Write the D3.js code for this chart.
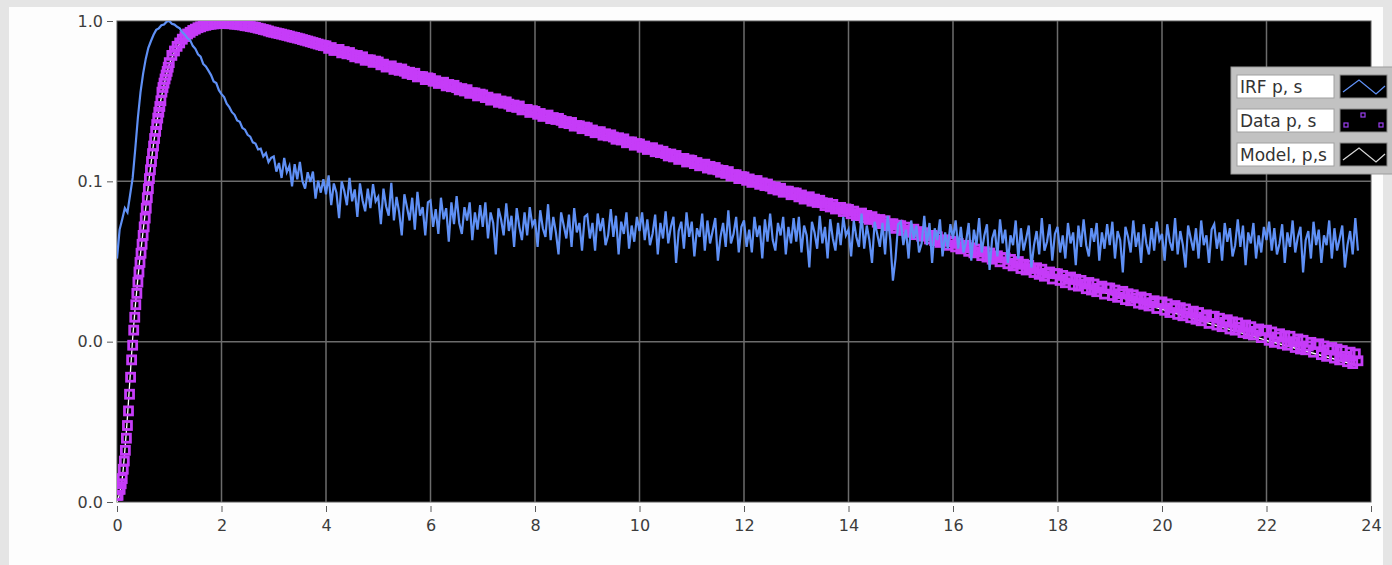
<!DOCTYPE html>
<html>
<head>
<meta charset="utf-8">
<script src="https://cdn.jsdelivr.net/npm/d3@7"></script>
<style>
  html, body { margin: 0; padding: 0; background: #e5e5e5; }
  .tick text { font-family: "DejaVu Sans", sans-serif; font-size: 16px; fill: #3c3c3c; }
  .tick line { stroke: #5a5a5a; }
  .legend-label { font-family: "DejaVu Sans", sans-serif; font-size: 17px; fill: #333; }
</style>
</head>
<body>
<div id="chart"></div>
<script>
// axis ticks
const xTicks = [0, 2, 4, 6, 8, 10, 12, 14, 16, 18, 20, 22, 24];
const yTicks = [1, 0.1, 0.01, 0.001];
const yTickLabels = ["1.0", "0.1", "0.0", "0.0"];
const legendNames = ["IRF p, s", "Data p, s", "Model, p,s"];

// IRF, sampled every 0.05 from t = 0
const irfDt = 0.05;
const irf = [
  0.033,0.05,0.058,0.068,0.064,0.082,0.105,0.16,0.25,0.36,0.47,0.58,0.68,0.75,0.82,0.88,0.9,0.94,0.95,0.99,
  1.0,0.96,0.95,0.92,0.9,0.85,0.82,0.78,0.76,0.7,0.67,0.62,0.6,0.54,0.52,0.49,0.46,0.42,0.41,0.37,
  0.35,0.335,0.305,0.29,0.27,0.26,0.24,0.235,0.215,0.21,0.195,0.19,0.175,0.172,0.158,0.16,0.143,0.15,0.132,0.14,
  0.143,0.115,0.13,0.105,0.14,0.114,0.125,0.093,0.128,0.103,0.132,0.1,0.09,0.114,0.099,0.115,0.078,0.101,0.085,0.103,
  0.083,0.109,0.071,0.097,0.085,0.059,0.1,0.087,0.071,0.105,0.075,0.089,0.06,0.097,0.076,0.065,0.09,0.068,0.096,0.075,
  0.08,0.054,0.09,0.07,0.061,0.098,0.057,0.08,0.064,0.046,0.083,0.069,0.057,0.079,0.05,0.086,0.061,0.069,0.046,0.074,
  0.076,0.052,0.067,0.047,0.079,0.058,0.068,0.042,0.074,0.054,0.081,0.055,0.047,0.069,0.057,0.074,0.043,0.064,0.05,0.071,
  0.052,0.074,0.044,0.064,0.055,0.035,0.068,0.058,0.046,0.073,0.049,0.061,0.039,0.068,0.052,0.043,0.064,0.046,0.069,0.053,
  0.058,0.039,0.066,0.051,0.045,0.072,0.043,0.06,0.048,0.035,0.064,0.053,0.044,0.062,0.039,0.068,0.048,0.055,0.037,0.06,
  0.062,0.044,0.055,0.037,0.063,0.049,0.059,0.04,0.046,0.067,0.045,0.061,0.035,0.056,0.047,0.064,0.038,0.053,0.042,0.06,
  0.049,0.064,0.043,0.058,0.04,0.047,0.062,0.035,0.055,0.044,0.065,0.041,0.052,0.06,0.031,0.049,0.056,0.038,0.064,0.045,
  0.056,0.034,0.051,0.045,0.063,0.037,0.057,0.041,0.049,0.059,0.032,0.045,0.055,0.039,0.066,0.041,0.047,0.06,0.036,0.052,
  0.057,0.039,0.05,0.036,0.06,0.045,0.053,0.033,0.058,0.042,0.063,0.043,0.037,0.055,0.046,0.06,0.035,0.052,0.041,0.059,
  0.042,0.06,0.036,0.053,0.046,0.029,0.056,0.048,0.038,0.061,0.041,0.052,0.033,0.058,0.044,0.037,0.055,0.04,0.06,0.046,
  0.05,0.034,0.057,0.045,0.039,0.063,0.038,0.053,0.043,0.031,0.056,0.047,0.039,0.055,0.035,0.061,0.043,0.024,0.033,0.054,
  0.056,0.04,0.05,0.033,0.057,0.044,0.053,0.036,0.041,0.061,0.04,0.055,0.031,0.051,0.043,0.058,0.034,0.048,0.038,0.054,
  0.044,0.057,0.038,0.052,0.036,0.042,0.055,0.032,0.05,0.04,0.059,0.036,0.046,0.054,0.028,0.044,0.05,0.034,0.058,0.041,
  0.05,0.031,0.046,0.04,0.057,0.033,0.051,0.037,0.044,0.053,0.029,0.04,0.049,0.035,0.059,0.037,0.042,0.054,0.032,0.047,
  0.052,0.036,0.046,0.033,0.055,0.041,0.048,0.03,0.053,0.039,0.058,0.04,0.034,0.051,0.042,0.055,0.032,0.048,0.038,0.054,
  0.04,0.056,0.033,0.049,0.043,0.027,0.052,0.045,0.036,0.057,0.039,0.048,0.031,0.054,0.041,0.035,0.051,0.037,0.056,0.043,
  0.047,0.032,0.054,0.042,0.037,0.059,0.035,0.049,0.04,0.029,0.053,0.044,0.037,0.051,0.033,0.057,0.04,0.046,0.031,0.05,
  0.054,0.038,0.048,0.032,0.055,0.042,0.051,0.034,0.04,0.058,0.039,0.053,0.03,0.048,0.041,0.055,0.033,0.046,0.036,0.052,
  0.043,0.056,0.037,0.051,0.035,0.041,0.054,0.031,0.048,0.039,0.057,0.036,0.045,0.052,0.027,0.043,0.049,0.033,0.056,0.04,
  0.05,0.031,0.046,0.04,0.057,0.033,0.051,0.037,0.044,0.053,0.029,0.04,0.049,0.035,0.059,0.037
];

// Data, rising edge every 0.02 from t = 0
const dataRiseDt = 0.02;
const dataRise = [
  0.0011,0.0011,0.0012,0.0012,0.0013,0.0014,0.0016,0.0018,0.0021,0.0025,
  0.003,0.0037,0.0047,0.006,0.0077,0.0095,0.0118,0.0142,0.017,0.02,
  0.0235,0.0272,0.0312,0.0356,0.0405,0.046,0.052,0.059,0.068,0.079,
  0.09,0.104,0.118,0.133,0.149,0.166,0.185,0.205,0.226,0.248,
  0.27,0.293,0.318,0.36,0.385,0.41,0.435,0.46,0.485,0.515
];
// Data, every 0.05 from t = 1
const dataStart = 1.0;
const dataDt = 0.05;
const dataMain = [
  0.55,0.61,0.65,0.695,0.73,0.77,0.8,0.83,0.85,0.873,0.89,0.908,0.92,0.933,0.94,0.95,0.955,0.96,0.962,0.966,
  0.965,0.97,0.966,0.962,0.962,0.955,0.955,0.948,0.945,0.935,0.932,0.924,0.918,0.912,0.902,0.895,0.885,0.878,0.867,0.856,
  0.85,0.842,0.835,0.828,0.82,0.813,0.805,0.796,0.79,0.782,0.775,0.766,0.758,0.75,0.742,0.734,0.726,0.718,0.71,0.703,
  0.7,0.675,0.683,0.655,0.66,0.665,0.633,0.645,0.624,0.636,0.616,0.598,0.61,0.588,0.598,0.569,0.573,0.572,0.552,0.562,
  0.555,0.533,0.538,0.516,0.521,0.525,0.499,0.508,0.492,0.502,0.486,0.471,0.479,0.463,0.472,0.448,0.451,0.45,0.431,0.442,
  0.438,0.421,0.424,0.408,0.411,0.415,0.394,0.402,0.389,0.397,0.384,0.372,0.379,0.366,0.373,0.354,0.357,0.356,0.341,0.35,
  0.346,0.333,0.335,0.321,0.325,0.327,0.311,0.317,0.307,0.313,0.303,0.293,0.299,0.289,0.295,0.279,0.281,0.281,0.269,0.276,
  0.273,0.262,0.265,0.254,0.257,0.259,0.246,0.25,0.243,0.247,0.24,0.232,0.236,0.229,0.233,0.221,0.223,0.222,0.213,0.218,
  0.216,0.207,0.209,0.201,0.203,0.204,0.194,0.198,0.192,0.195,0.189,0.183,0.187,0.181,0.184,0.174,0.176,0.176,0.168,0.172,
  0.171,0.163,0.166,0.158,0.161,0.162,0.153,0.157,0.151,0.154,0.149,0.144,0.148,0.142,0.145,0.137,0.139,0.139,0.132,0.136,
  0.135,0.129,0.131,0.125,0.127,0.128,0.121,0.124,0.119,0.122,0.118,0.114,0.117,0.112,0.115,0.108,0.11,0.11,0.104,0.107,
  0.1065,0.1015,0.1035,0.0985,0.1005,0.1012,0.0958,0.0978,0.094,0.0962,0.0932,0.0898,0.0922,0.0882,0.0905,0.0855,0.0868,0.0868,0.0825,0.0848,
  0.0845,0.08,0.0822,0.0775,0.0792,0.0801,0.0752,0.0775,0.0738,0.0762,0.0736,0.0706,0.0731,0.0692,0.0718,0.0672,0.0686,0.0688,0.0648,0.0673,
  0.0668,0.0628,0.0652,0.0611,0.0626,0.0634,0.0592,0.0613,0.0579,0.0602,0.0581,0.0556,0.0578,0.0545,0.0568,0.0529,0.0542,0.0544,0.0509,0.0533,
  0.0529,0.0494,0.0518,0.0481,0.0494,0.0503,0.0465,0.0486,0.0455,0.0478,0.0459,0.0437,0.046,0.0427,0.0451,0.0416,0.0428,0.0432,0.0399,0.0423,
  0.0419,0.039,0.041,0.0379,0.0391,0.0399,0.0366,0.0385,0.0358,0.0378,0.0363,0.0344,0.0364,0.0337,0.0357,0.0327,0.0338,0.0343,0.0315,0.0335,
  0.0333,0.0306,0.0326,0.0297,0.0308,0.0316,0.0286,0.0304,0.028,0.0299,0.0286,0.027,0.0289,0.0263,0.0283,0.0256,0.0267,0.0272,0.0246,0.0266,
  0.0265,0.0241,0.0259,0.0233,0.0245,0.0253,0.0226,0.0245,0.0222,0.0241,0.0229,0.0214,0.0234,0.021,0.0229,0.0205,0.0215,0.0222,0.0198,0.0216,
  0.0216,0.0194,0.021,0.0189,0.0199,0.0206,0.0183,0.0199,0.018,0.0196,0.0187,0.0174,0.019,0.0171,0.0186,0.0167,0.0175,0.018,0.0161,0.0176,
  0.0177,0.0157,0.0172,0.0152,0.0162,0.0168,0.0148,0.0163,0.0145,0.016,0.0151,0.0141,0.0155,0.0138,0.0152,0.0135,0.0142,0.0147,0.013,0.0144,
  0.0144,0.0127,0.014,0.0124,0.0132,0.0137,0.012,0.0133,0.0118,0.0131,0.0123,0.0114,0.0127,0.0112,0.0124,0.011,0.0116,0.012,0.0106,0.0117,
  0.0118,0.0102,0.0115,0.0099,0.0107,0.0112,0.0097,0.0109,0.0095,0.0108,0.01,0.0092,0.0104,0.009,0.0102,0.0089,0.0094,0.0099,0.0086,0.0096,
  0.0097,0.0083,0.0094,0.0081,0.0089,0.0092,0.0079,0.009,0.0077,0.0088,0.0081,0.0075,0.0086,0.0073,0.0084,0.0076
];

// fitted model
const modelT = [0, 0.1, 0.2, 0.3, 0.4, 0.5, 0.6, 0.7, 0.8, 0.9, 1.0, 1.2, 1.4, 1.6, 1.8, 2.0, 2.2, 2.5, 3, 3.5, 4, 6, 8, 10, 12, 14, 16, 18, 20, 22, 23.75];
const modelV = [0.001, 0.0014, 0.0034, 0.0105, 0.025, 0.049, 0.094, 0.172, 0.276, 0.4, 0.535, 0.72, 0.845, 0.915, 0.952, 0.963, 0.96, 0.93, 0.848, 0.773, 0.69, 0.428, 0.266, 0.166, 0.103, 0.064, 0.0398, 0.0246, 0.0159, 0.0102, 0.0071];

const irfColor = "#5f90f5";
const dataColor = "#c63cf8";
const modelColor = "#ffffff";

const irfPts = irf.map((v, i) => ({ t: i * irfDt, v: v }));
const dataPts = dataRise.map((v, i) => ({ t: i * dataRiseDt, v: v }))
  .concat(dataMain.map((v, i) => ({ t: dataStart + i * dataDt, v: v })));
const modelPts = modelT.map((t, i) => ({ t: t, v: modelV[i] }));

const width = 1392;
const height = 565;
const plot = { left: 117, right: 1371, top: 21, bottom: 502 };

const svg = d3.select("#chart").append("svg")
  .attr("width", width)
  .attr("height", height)
  .style("display", "block");

svg.append("rect").attr("width", width).attr("height", height).attr("fill", "#e5e5e5");
svg.append("rect")
  .attr("x", 9).attr("y", 7)
  .attr("width", 1374).attr("height", 560)
  .attr("fill", "#fdfdfd");

const x = d3.scaleLinear().domain([0, 24]).range([plot.left, plot.right]);
const y = d3.scaleLog().domain([0.001, 1]).range([plot.bottom, plot.top]);

// plot background
svg.append("rect")
  .attr("x", plot.left).attr("y", plot.top)
  .attr("width", plot.right - plot.left)
  .attr("height", plot.bottom - plot.top)
  .attr("fill", "#000")
  .attr("stroke", "#5a5a5a")
  .attr("stroke-width", 1);

// grid
const grid = svg.append("g").attr("stroke", "#6c6c6c").attr("stroke-width", 1.5);
grid.selectAll(".vgrid")
  .data(xTicks.filter((d) => d > 0 && d < 24))
  .join("line")
  .attr("class", "vgrid")
  .attr("x1", (d) => x(d)).attr("x2", (d) => x(d))
  .attr("y1", plot.top).attr("y2", plot.bottom);
grid.selectAll(".hgrid")
  .data(yTicks.filter((d) => d < 1 && d > 0.001))
  .join("line")
  .attr("class", "hgrid")
  .attr("x1", plot.left).attr("x2", plot.right)
  .attr("y1", (d) => y(d)).attr("y2", (d) => y(d));

svg.append("clipPath").attr("id", "clip")
  .append("rect")
  .attr("x", plot.left).attr("y", plot.top)
  .attr("width", plot.right - plot.left)
  .attr("height", plot.bottom - plot.top);

const area = svg.append("g").attr("clip-path", "url(#clip)");

// model (under the data markers)
area.append("path")
  .datum(modelPts)
  .attr("fill", "none")
  .attr("stroke", modelColor)
  .attr("stroke-width", 1.3)
  .attr("d", d3.line().x((d) => x(d.t)).y((d) => y(d.v)).curve(d3.curveMonotoneX));

// data: hollow squares
area.append("g")
  .selectAll("rect")
  .data(dataPts)
  .join("rect")
  .attr("x", (d) => x(d.t) - 4)
  .attr("y", (d) => y(d.v) - 4)
  .attr("width", 8)
  .attr("height", 8)
  .attr("fill", "none")
  .attr("stroke", dataColor)
  .attr("stroke-width", 2.8);

// IRF line
area.append("path")
  .datum(irfPts)
  .attr("fill", "none")
  .attr("stroke", irfColor)
  .attr("stroke-width", 2.2)
  .attr("d", d3.line().x((d) => x(d.t)).y((d) => y(d.v)));

// axes
const xAxis = svg.append("g")
  .attr("transform", `translate(0,${plot.bottom + 4})`)
  .call(d3.axisBottom(x).tickValues(xTicks).tickSize(6).tickPadding(8).tickFormat(d3.format("d")));
xAxis.select(".domain").remove();

const yAxis = svg.append("g")
  .attr("transform", `translate(${plot.left - 4},0)`)
  .call(d3.axisLeft(y).tickValues(yTicks).tickSize(6).tickPadding(4).tickFormat((d, i) => yTickLabels[i]));
yAxis.select(".domain").remove();

// legend
const legend = svg.append("g").attr("transform", "translate(1231,67)");
legend.append("rect")
  .attr("width", 162).attr("height", 107)
  .attr("fill", "#c2c2c2")
  .attr("stroke", "#9c9c9c");

const legendColors = [irfColor, dataColor, "#d6d6d6"];
legendNames.forEach((name, i) => {
  const row = legend.append("g").attr("transform", `translate(0,${8 + i * 34})`);
  row.append("rect")
    .attr("x", 6).attr("width", 97).attr("height", 23)
    .attr("fill", "#fff").attr("stroke", "#a0a0a0");
  row.append("text")
    .attr("class", "legend-label")
    .attr("x", 9).attr("y", 18)
    .text(name);

  const sw = row.append("g").attr("transform", "translate(109,0)");
  sw.append("rect")
    .attr("width", 47).attr("height", 23)
    .attr("fill", "#000").attr("stroke", "#8a8a8a");
  if (i === 1) {
    sw.selectAll(".m")
      .data([[6, 16], [23, 6], [41, 16]])
      .join("rect")
      .attr("class", "m")
      .attr("x", (d) => d[0] - 2).attr("y", (d) => d[1] - 2)
      .attr("width", 4).attr("height", 4)
      .attr("fill", "none")
      .attr("stroke", "#9b3ff0")
      .attr("stroke-width", 1.2);
  } else {
    sw.append("path")
      .datum([[3, 17], [19, 5], [36, 19], [45, 11]])
      .attr("fill", "none")
      .attr("stroke", legendColors[i])
      .attr("stroke-width", 1.3)
      .attr("d", d3.line());
  }
});
</script>
</body>
</html>
